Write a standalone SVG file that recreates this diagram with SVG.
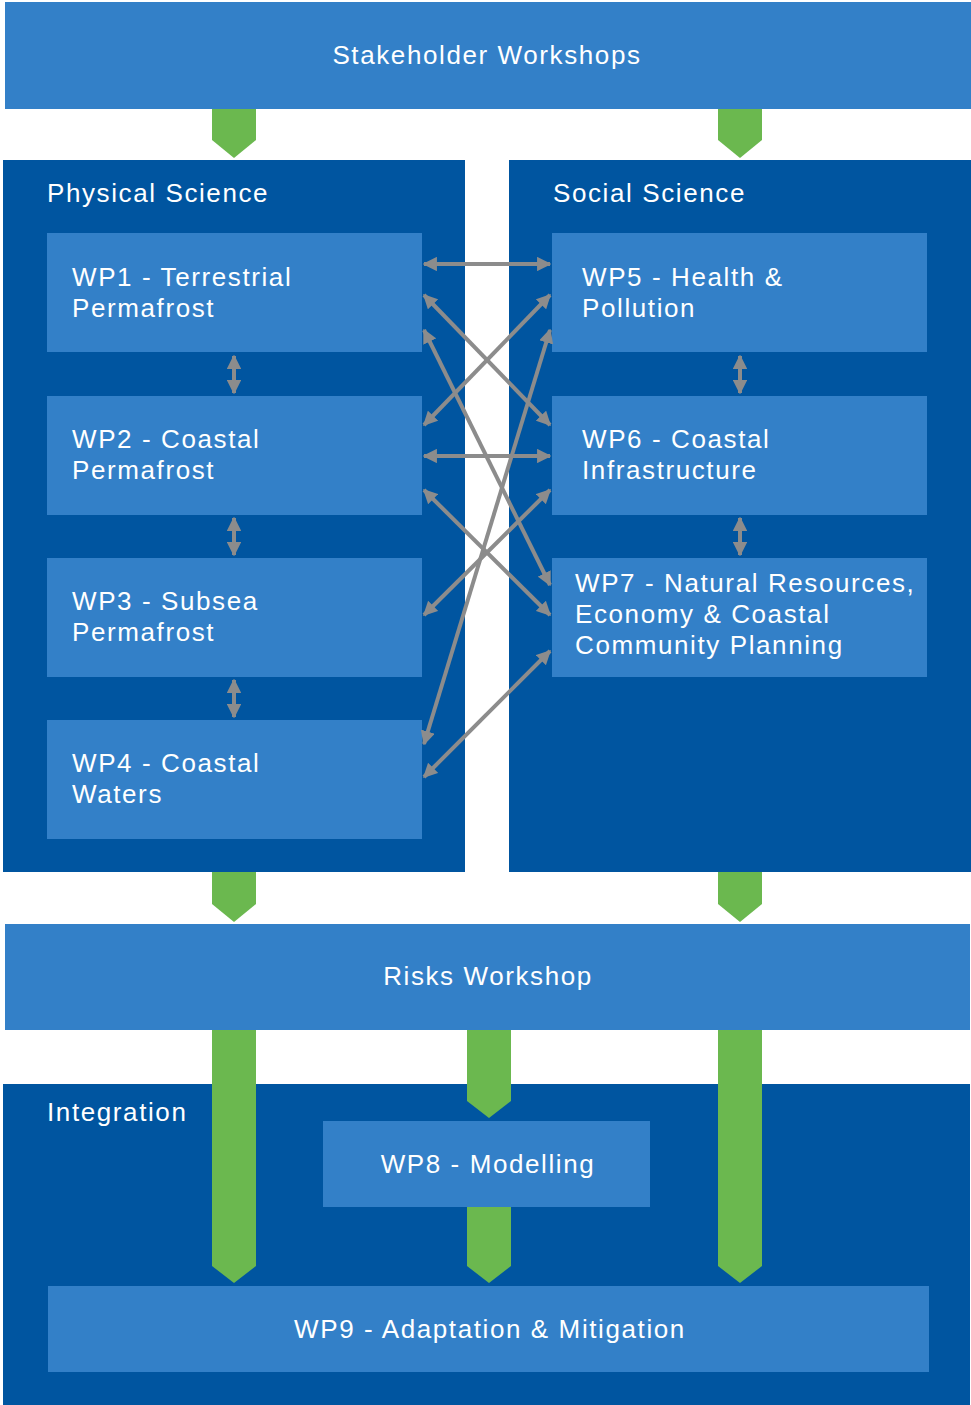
<svg xmlns="http://www.w3.org/2000/svg" width="971" height="1405" viewBox="0 0 971 1405">
<defs>
<style>
.light{fill:#3380c8}
.dark{fill:#0055a0}
.green{fill:#6bb84f}
.t{font-family:"Liberation Sans",Arial,sans-serif;font-size:26px;letter-spacing:1.6px;fill:#ffffff}
.c{text-anchor:middle}
.ar{stroke:#8c8c8c;stroke-width:4;fill:none;marker-start:url(#ah);marker-end:url(#ah)}
</style>
<marker id="ah" viewBox="0 0 10 10" refX="9" refY="5" markerWidth="3.6" markerHeight="3.6" orient="auto-start-reverse" markerUnits="strokeWidth">
<path d="M0,0 L10,5 L0,10 z" fill="#8c8c8c"/>
</marker>
</defs>
<rect width="971" height="1405" fill="#ffffff"/>

<g id="stakeholder">
<rect class="light" x="5" y="2" width="966" height="107"/>
<text class="t c" x="487" y="64">Stakeholder Workshops</text>
</g>

<g id="physical">
<rect class="dark" x="3" y="160" width="462" height="712"/>
<text class="t" x="47" y="202">Physical Science</text>
</g>
<g id="social">
<rect class="dark" x="509" y="160" width="462" height="712"/>
<text class="t" x="553" y="202">Social Science</text>
</g>

<g id="wp1"><rect class="light" x="47" y="233" width="375" height="119"/><text class="t" x="72" y="286">WP1 - Terrestrial</text><text class="t" x="72" y="317">Permafrost</text></g>
<g id="wp2"><rect class="light" x="47" y="396" width="375" height="119"/><text class="t" x="72" y="448">WP2 - Coastal</text><text class="t" x="72" y="479">Permafrost</text></g>
<g id="wp3"><rect class="light" x="47" y="558" width="375" height="119"/><text class="t" x="72" y="610">WP3 - Subsea</text><text class="t" x="72" y="641">Permafrost</text></g>
<g id="wp4"><rect class="light" x="47" y="720" width="375" height="119"/><text class="t" x="72" y="772">WP4 - Coastal</text><text class="t" x="72" y="803">Waters</text></g>
<g id="wp5"><rect class="light" x="552" y="233" width="375" height="119"/><text class="t" x="582" y="286">WP5 - Health &amp;</text><text class="t" x="582" y="317">Pollution</text></g>
<g id="wp6"><rect class="light" x="552" y="396" width="375" height="119"/><text class="t" x="582" y="448">WP6 - Coastal</text><text class="t" x="582" y="479">Infrastructure</text></g>
<g id="wp7"><rect class="light" x="552" y="558" width="375" height="119"/><text class="t" x="575" y="592">WP7 - Natural Resources,</text><text class="t" x="575" y="623">Economy &amp; Coastal</text><text class="t" x="575" y="654">Community Planning</text></g>

<g id="risks">
<rect class="light" x="5" y="924" width="965" height="106"/>
<text class="t c" x="488" y="985">Risks Workshop</text>
</g>

<g id="integration">
<rect class="dark" x="3" y="1084" width="967" height="321"/>
<text class="t" x="47" y="1121">Integration</text>
</g>
<g id="wp8">
<rect class="light" x="323" y="1121" width="327" height="86"/>
<text class="t c" x="488" y="1173">WP8 - Modelling</text>
</g>
<g id="wp9">
<rect class="light" x="48" y="1286" width="881" height="86"/>
<text class="t c" x="490" y="1338">WP9 - Adaptation &amp; Mitigation</text>
</g>

<g id="connectors">
<path class="green" d="M212,109 H256 V140 L234,158 L212,140 Z"/>
<path class="green" d="M718,109 H762 V140 L740,158 L718,140 Z"/>
<path class="green" d="M212,872 H256 V904 L234,922 L212,904 Z"/>
<path class="green" d="M718,872 H762 V904 L740,922 L718,904 Z"/>
<path class="green" d="M212,1030 H256 V1266 L234,1283 L212,1266 Z"/>
<path class="green" d="M718,1030 H762 V1266 L740,1283 L718,1266 Z"/>
<path class="green" d="M467,1030 H511 V1101 L489,1118 L467,1101 Z"/>
<path class="green" d="M467,1207 H511 V1266 L489,1283 L467,1266 Z"/>

<line class="ar" x1="234" y1="356" x2="234" y2="393"/>
<line class="ar" x1="234" y1="518" x2="234" y2="555"/>
<line class="ar" x1="234" y1="680" x2="234" y2="717"/>
<line class="ar" x1="740" y1="356" x2="740" y2="393"/>
<line class="ar" x1="740" y1="518" x2="740" y2="555"/>

<line class="ar" x1="424" y1="264" x2="550" y2="264"/>
<line class="ar" x1="424" y1="456" x2="550" y2="456"/>
<line class="ar" x1="424" y1="295" x2="550" y2="425"/>
<line class="ar" x1="550" y1="295" x2="424" y2="425"/>
<line class="ar" x1="424" y1="330" x2="550" y2="585"/>
<line class="ar" x1="550" y1="330" x2="424" y2="744"/>
<line class="ar" x1="424" y1="490" x2="550" y2="615"/>
<line class="ar" x1="550" y1="490" x2="424" y2="615"/>
<line class="ar" x1="550" y1="651" x2="424" y2="777"/>
</g>
</svg>
